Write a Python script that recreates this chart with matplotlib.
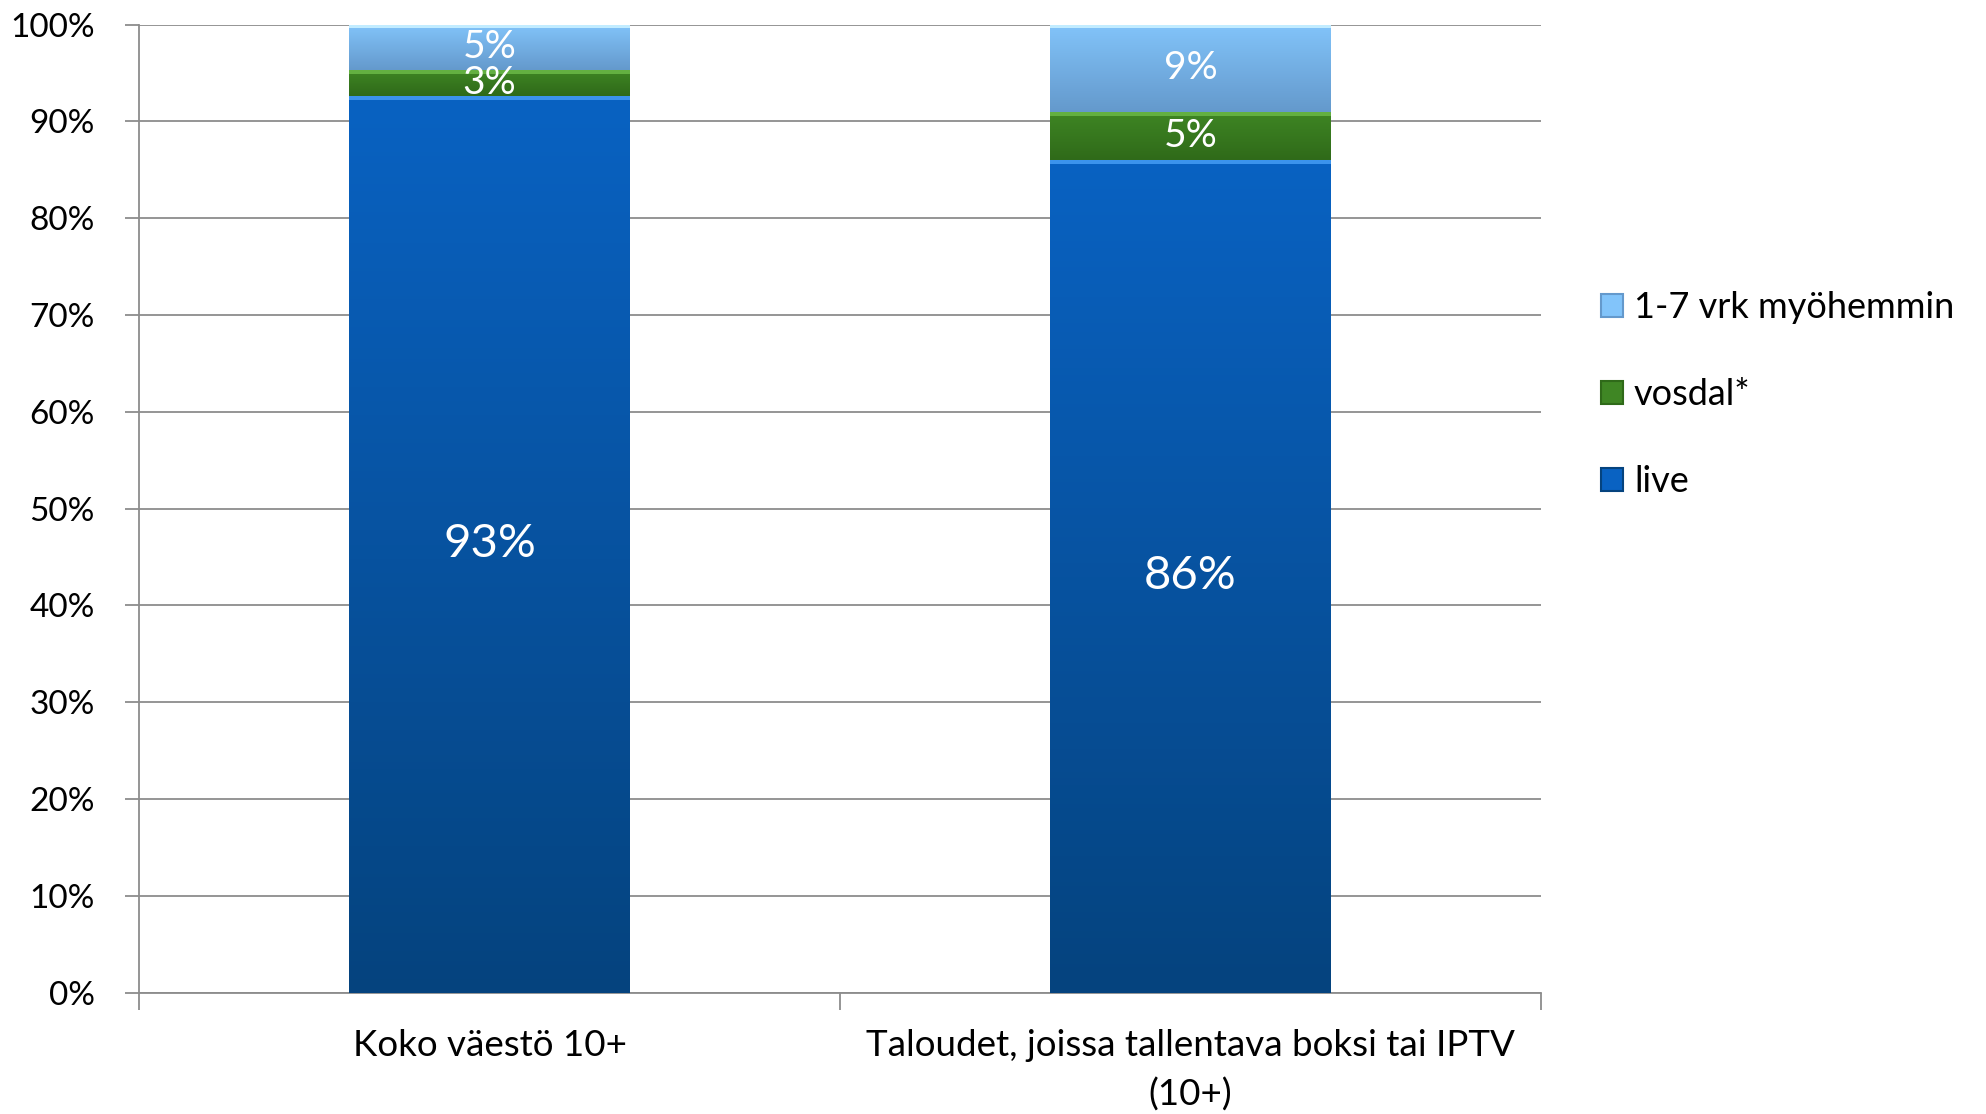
import numpy as np
import matplotlib
matplotlib.use('Agg')
import matplotlib.pyplot as plt
from matplotlib.colors import LinearSegmentedColormap

# ── data ─────────────────────────────
categories = ['Koko väestö 10+', 'Taloudet, joissa tallentava boksi tai IPTV\n(10+)']
series_names = ['live', 'vosdal*', '1-7 vrk myöhemmin']
live = [92.6, 86.0]
vosdal = [2.7, 5.0]
later = [4.7, 9.0]
yticks = list(range(0, 101, 10))

# top / bottom colour of each series (Excel-like bevel gradient)
grad = [('#0962c2', '#05437e'), ('#3f8624', '#2f6a19'), ('#82c4fa', '#6499cc')]
highlight = ['#3b93ec', '#63b041', '#c2ecff']

plt.rcParams['font.family'] = ['Lato', 'DejaVu Sans']

fig = plt.figure(figsize=(19.86, 11.14), dpi=100)
ax = fig.add_axes([0.070, 0.109, 0.706, 0.869])

x = np.arange(len(categories))
width = 0.4
bottom = np.zeros(len(categories))
handles = []
for vals, (ctop, cbot), hl, name, fs in zip([live, vosdal, later], grad, highlight,
                                           series_names, [34, 28, 28]):
    bars = ax.bar(x, vals, width, bottom=bottom, color=ctop, edgecolor='none',
                  zorder=3, label=name)
    handles.append(bars)
    cmap = LinearSegmentedColormap.from_list('g', [cbot, ctop])
    for p in bars.patches:
        x0, y0 = p.get_x(), p.get_y()
        im = ax.imshow(np.linspace(0, 1, 256).reshape(-1, 1), cmap=cmap, aspect='auto',
                       origin='lower', extent=[x0, x0 + p.get_width(), y0, y0 + p.get_height()],
                       zorder=3.5)
        im.set_clip_path(p)
    # thin highlight at the top of each segment
    ax.bar(x, [0.4] * len(vals), width, bottom=bottom + np.array(vals) - 0.4,
           color=hl, edgecolor='none', zorder=4)
    for xi, b, v in zip(x, bottom, vals):
        ax.text(xi, b + v / 2, f'{v:.0f}%', ha='center', va='center',
                color='white', fontsize=fs, zorder=5)
    bottom = bottom + np.array(vals)

ax.set_xlim(-0.5, 1.5)
ax.set_ylim(0, 100)
ax.set_yticks(yticks)
ax.set_yticklabels([f'{t}%' for t in yticks], fontsize=24)
ax.yaxis.grid(True, color='#8c8c8c', linewidth=1.3, zorder=0)
ax.set_xticks(x)
ax.set_xticklabels(categories, fontsize=26.5, linespacing=1.55)
ax.tick_params(axis='x', length=0, pad=26)
ax.set_xticks([-0.5, 0.5, 1.5], minor=True)
ax.tick_params(axis='x', which='minor', length=12, color='#8c8c8c', width=1.3)
ax.tick_params(axis='y', length=10, color='#8c8c8c', width=1.3, pad=22)
for s in ['top', 'right']:
    ax.spines[s].set_visible(False)
for s in ['left', 'bottom']:
    ax.spines[s].set_color('#8c8c8c')
    ax.spines[s].set_linewidth(1.3)

leg = fig.legend(handles[::-1], series_names[::-1], loc='upper left',
                 bbox_to_anchor=(0.790, 0.768), bbox_transform=fig.transFigure,
                 frameon=False, fontsize=26, handlelength=0.6, handleheight=0.6,
                 handletextpad=0.3, labelspacing=1.5)
for h, (ctop, cbot) in zip(leg.legend_handles, grad[::-1]):
    h.set_facecolor(ctop)
    h.set_edgecolor(cbot)
    h.set_linewidth(1.5)

fig.savefig('out.png', dpi=100)
